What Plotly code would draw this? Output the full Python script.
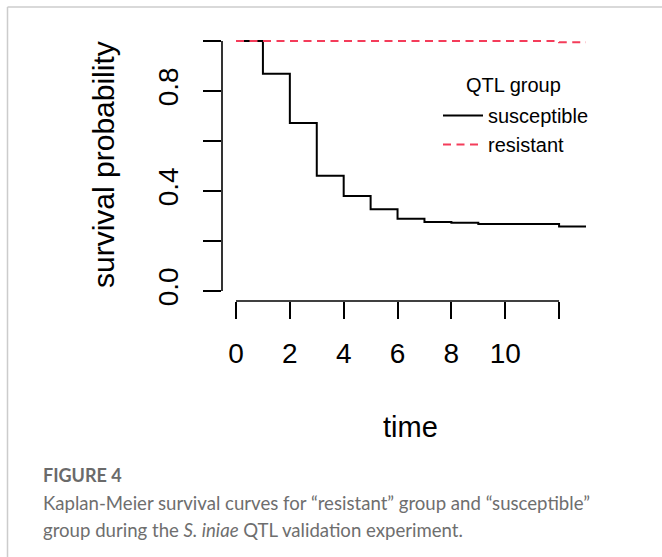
import plotly.graph_objects as go

# ---- data ----
times_susceptible = [0, 1, 2, 3, 4, 5, 6, 7, 8, 9, 12, 13]
surv_susceptible = [1.0, 0.869, 0.672, 0.461, 0.380, 0.327, 0.289, 0.276, 0.273, 0.268, 0.258, 0.258]
times_resistant = [0, 12, 13]
surv_resistant = [1.0, 0.995, 0.995]

x_tickvals = [0, 2, 4, 6, 8, 10, 12]
x_ticktext = ["0", "2", "4", "6", "8", "10", ""]
y_tickvals = [0.0, 0.2, 0.4, 0.6, 0.8, 1.0]
y_ticktext = ["0.0", "", "0.4", "", "0.8", ""]

W, H = 662, 557
L, R, T, B = 222, 600, 31, 301  # plot area in pixels


def px(xp):
    return (xp - L) / (R - L)


def py(yp):
    return (B - yp) / (B - T)


FONT = "Liberation Sans, Arial, sans-serif"
CAP_FONT = "Lato, sans-serif"

fig = go.Figure()
fig.add_trace(go.Scatter(
    x=times_susceptible, y=surv_susceptible, mode="lines", line_shape="hv",
    line=dict(color="black", width=2), name="susceptible"))
fig.add_trace(go.Scatter(
    x=times_resistant, y=surv_resistant, mode="lines", line_shape="hv",
    line=dict(color="#f43c5a", width=2, dash="8px,5.5px"), name="resistant"))

xmax = max(times_susceptible + times_resistant)
pad_x = 0.04 * xmax
fig.update_xaxes(range=[-pad_x, xmax + pad_x], tickvals=x_tickvals, ticktext=x_ticktext,
                 ticks="outside", ticklen=17, tickwidth=1.6, tickcolor="black",
                 ticklabelstandoff=10,
                 showline=False, showgrid=False, zeroline=False,
                 tickfont=dict(family=FONT, size=28, color="black"))
fig.update_yaxes(range=[-0.04, 1.04], tickvals=y_tickvals, ticktext=y_ticktext,
                 ticks="outside", ticklen=18, tickwidth=1.6, tickcolor="black",
                 tickangle=-90, ticklabelstandoff=14,
                 showline=False, showgrid=False, zeroline=False,
                 tickfont=dict(family=FONT, size=28, color="black"))

shapes = [
    # R-style axis lines spanning first to last tick
    dict(type="line", xref="x", yref="paper", x0=x_tickvals[0], x1=x_tickvals[-1], y0=0, y1=0,
         line=dict(color="black", width=1.6)),
    dict(type="line", xref="paper", yref="y", x0=0, x1=0, y0=y_tickvals[0], y1=y_tickvals[-1],
         line=dict(color="black", width=1.6)),
    # page frame
    dict(type="line", xref="paper", yref="paper", x0=px(7.5), x1=px(W + 5), y0=py(7), y1=py(7),
         line=dict(color="#cccccc", width=1.5)),
    dict(type="line", xref="paper", yref="paper", x0=px(7.5), x1=px(7.5), y0=py(7), y1=py(H + 5),
         line=dict(color="#cccccc", width=1.5)),
]

annotations = [
    dict(text="survival probability", x=px(103), y=py(165), xref="paper", yref="paper",
         textangle=-90, showarrow=False, xanchor="center", yanchor="middle",
         font=dict(family=FONT, size=30, color="black")),
    dict(text="time", x=px(410), y=py(427), xref="paper", yref="paper",
         showarrow=False, xanchor="center", yanchor="middle",
         font=dict(family=FONT, size=29, color="black")),
    dict(text="QTL group", x=px(513), y=py(85), xref="paper", yref="paper",
         showarrow=False, xanchor="center", yanchor="middle",
         font=dict(family=FONT, size=20, color="black")),
    dict(text="<b>FIGURE 4</b>", x=px(41), y=py(475), xref="paper", yref="paper",
         showarrow=False, xanchor="left", yanchor="middle",
         font=dict(family=CAP_FONT, size=18, color="#6a6a6a")),
    dict(text="Kaplan-Meier survival curves for \u201cresistant\u201d group and \u201csusceptible\u201d",
         x=px(41), y=py(503), xref="paper", yref="paper",
         showarrow=False, xanchor="left", yanchor="middle",
         font=dict(family=CAP_FONT, size=18.6, color="#6e6e6e")),
    dict(text="group during the <i>S. iniae</i> QTL validation experiment.",
         x=px(41), y=py(530), xref="paper", yref="paper",
         showarrow=False, xanchor="left", yanchor="middle",
         font=dict(family=CAP_FONT, size=18.6, color="#6e6e6e")),
]

fig.update_layout(
    width=W, height=H,
    margin=dict(l=L, r=W - R, t=T, b=H - B, pad=0),
    plot_bgcolor="white", paper_bgcolor="white",
    shapes=shapes, annotations=annotations,
    showlegend=True,
    legend=dict(
        x=px(438), y=py(96), xanchor="left", yanchor="top",
        bgcolor="rgba(0,0,0,0)",
        itemwidth=40,
        font=dict(family=FONT, size=20, color="black"),
        tracegroupgap=0,
    ),
)

fig.write_html("out.html")
